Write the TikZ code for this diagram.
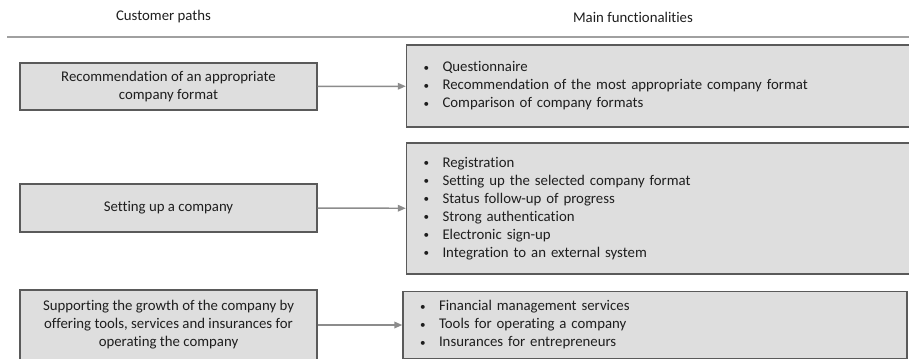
\documentclass[tikz,border=0pt]{standalone}
\usepackage{fontspec}
\setmainfont{Carlito}[RawFeature={-liga}]
\usepackage{tikz}
\usetikzlibrary{arrows.meta}

\definecolor{boxfill}{RGB}{222,222,222}
\definecolor{boxline}{RGB}{90,90,90}
\definecolor{rulegray}{RGB}{160,160,160}
\definecolor{arrowgray}{RGB}{140,140,140}
\definecolor{txt}{RGB}{30,30,30}

\newcommand\fn[1]{\makebox[14.25pt][l]{\raisebox{0.4pt}{\scalebox{0.75}{\textbullet}}}#1}

\tikzset{
  pathbox/.style={draw=boxline, line width=1.1pt, fill=boxfill, align=center,
    minimum width=222.75pt, inner sep=0pt},
  funbox/.style={draw=boxline, line width=1.1pt, fill=boxfill, align=left,
    inner xsep=12.75pt, inner ysep=0pt},
  link/.style={draw=arrowgray, line width=1.1pt, -{Triangle[length=6pt,width=5pt]}}
}

\begin{document}
\begin{tikzpicture}[x=0.75pt,y=-0.75pt,txt,font=\fontsize{11.1}{13.5}\selectfont]
\clip (0,0) rectangle (909,358);
\fill[white] (0,0) rectangle (909,358);

\node (hpaths) at (163.5,17){Customer paths};
\node (hfun) at (633,17){Main functionalities};
\draw[rulegray, line width=1.1pt] (7,37)--(909,37);

\node[pathbox, minimum height=35.25pt] (p1) at (168.5,86.5)
  {Recommendation of an appropriate\\company format};
\node[pathbox, minimum height=36pt] (p2) at (168.5,208)
  {Setting up a company};
\node[pathbox, minimum height=52.5pt] (p3) at (168.5,325)
  {Supporting the growth of the company by\\offering tools, services and insurances for\\operating the company};

\node[funbox, text width=356.25pt, minimum height=61.5pt] (f1) at (661,86)
  {\fn{Questionnaire}\\
   \fn{Recommendation of the most appropriate company format}\\
   \fn{Comparison of company formats}};
\node[funbox, text width=356.25pt, minimum height=98.25pt] (f2) at (661,208.5)
  {\fn{Registration}\\
   \fn{Setting up the selected company format}\\
   \fn{Status follow-up of progress}\\
   \fn{Strong authentication}\\
   \fn{Electronic sign-up}\\
   \fn{Integration to an external system}};
\node[funbox, text width=352.5pt, minimum height=50.25pt] (f3) at (655,325)
  {\fn{Financial management services}\\
   \fn{Tools for operating a company}\\
   \fn{Insurances for entrepreneurs}};

\draw[link] (p1)--(f1);
\draw[link] (p2)--(f2);
\draw[link] (p3)--(f3);
\end{tikzpicture}
\end{document}
